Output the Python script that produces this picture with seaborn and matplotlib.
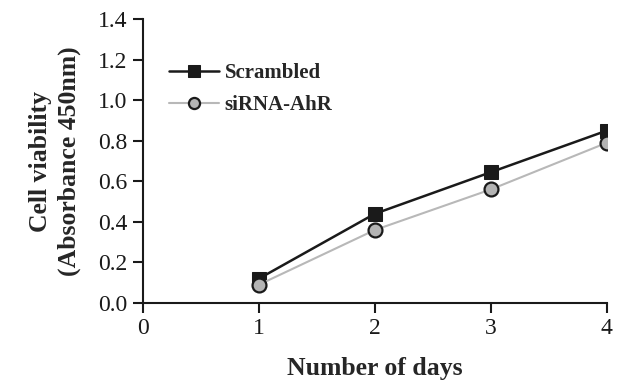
import matplotlib
matplotlib.use("Agg")
import matplotlib.pyplot as plt
import seaborn as sns
import pandas as pd

days = [1, 2, 3, 4]
scrambled = [0.12, 0.44, 0.645, 0.85]
sirna_ahr = [0.09, 0.36, 0.56, 0.79]
x_ticks = [0, 1, 2, 3, 4]
y_ticks = [0.0, 0.2, 0.4, 0.6, 0.8, 1.0, 1.2, 1.4]

sns.set_style("ticks")
plt.rcParams['font.family'] = ['Liberation Serif', 'DejaVu Serif']

df = pd.DataFrame({
    "day": days * 2,
    "value": scrambled + sirna_ahr,
    "group": ["Scrambled"] * 4 + ["siRNA-AhR"] * 4,
})

fig = plt.figure(figsize=(6.32, 3.9), dpi=100)
ax = fig.add_axes([0.226, 0.223, 0.734, 0.728])

sns.lineplot(data=df[df.group == "Scrambled"], x="day", y="value", ax=ax,
             color="#1a1a1a", lw=1.8, marker="s", markersize=10.5,
             markerfacecolor="#1a1a1a", markeredgecolor="#1a1a1a",
             label="Scrambled")
sns.lineplot(data=df[df.group == "siRNA-AhR"], x="day", y="value", ax=ax,
             color="#b8b8b8", lw=1.5, marker="o", markersize=10,
             markerfacecolor="#b4b4b4", markeredgecolor="#1a1a1a",
             markeredgewidth=1.6, label="siRNA-AhR")

ax.set_xlim(0, 4)
ax.set_ylim(0, 1.4)
ax.set_xticks(x_ticks)
ax.set_yticks(y_ticks)
ax.set_yticklabels([f"{v:.1f}" for v in y_ticks])
ax.tick_params(axis="both", direction="out", length=7, width=1.5,
               labelsize=17, colors="#1a1a1a", pad=4)
for s in ["left", "bottom"]:
    ax.spines[s].set_linewidth(1.5)
    ax.spines[s].set_color("#1a1a1a")
sns.despine(ax=ax)

ax.set_xlabel("Number of days", fontsize=18.5, fontweight="bold", labelpad=13)
ax.set_ylabel("Cell viability\n(Absorbance 450nm)", fontsize=18.5,
              fontweight="bold", labelpad=12, linespacing=1.35)

leg = ax.legend(loc="upper left", bbox_to_anchor=(0.015, 0.91), frameon=False,
                prop={"weight": "bold", "size": 15}, handlelength=2.4,
                handletextpad=0.3, labelspacing=0.55, markerscale=0.8)
for sp in ax.spines.values():
    sp.set_zorder(3)

fig.savefig("out.png", dpi=100)
